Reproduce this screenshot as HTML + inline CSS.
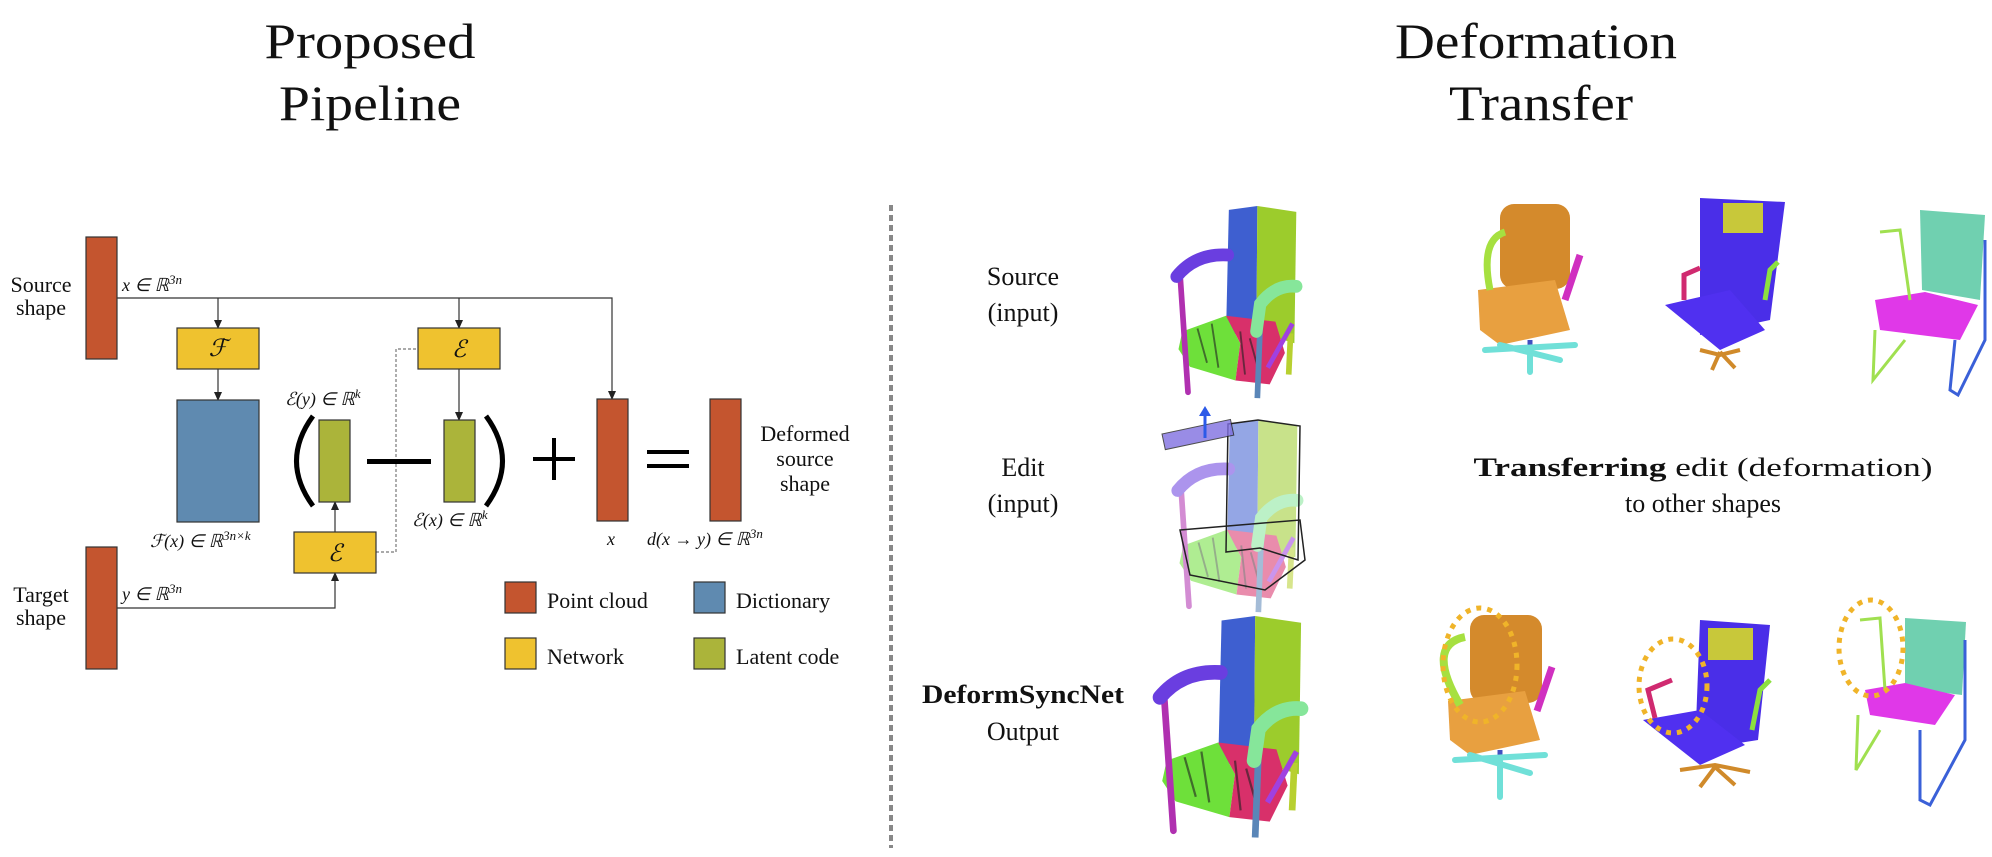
<!DOCTYPE html>
<html><head><meta charset="utf-8"><style>
html,body{margin:0;padding:0;background:#fff;}
svg{display:block;}
text{font-family:"Liberation Serif",serif;fill:#111;}
.m{font-style:italic;font-size:18px;}
</style></head><body>
<svg width="1992" height="857" viewBox="0 0 1992 857" xmlns="http://www.w3.org/2000/svg">
<defs>
<marker id="ah" markerWidth="9" markerHeight="8" refX="8" refY="4" orient="auto" markerUnits="userSpaceOnUse">
<path d="M0,0 L9,4 L0,8 z" fill="#222"/>
</marker>
<g id="chair">
 <path d="M63,4 L93,0 L92,128 L60,132 Z" fill="#3e5fd0"/>
 <path d="M93,0 L134,6 L132,140 L92,128 Z" fill="#9ccc2c"/>
 <path d="M14,128 L60,112 L75,140 L70,178 L22,164 L10,146 Z" fill="#6ee03a"/>
 <path d="M60,112 L112,118 L122,150 L106,182 L70,178 L75,140 Z" fill="#d8306a"/>
 <path d="M30,125 L40,160 M45,120 L52,165 M85,135 L95,170 M75,128 L80,172" stroke="#222" stroke-width="2" opacity=".6"/>
 <line x1="12" y1="75" x2="20" y2="190" stroke="#b030b0" stroke-width="6" stroke-linecap="round"/>
 <path d="M8,72 Q28,48 62,50" stroke="#6a3ee0" stroke-width="13" fill="none" stroke-linecap="round"/>
 <line x1="128" y1="130" x2="126" y2="172" stroke="#b8d030" stroke-width="6"/>
 <line x1="104" y1="165" x2="130" y2="120" stroke="#a040e0" stroke-width="5"/>
 <line x1="96" y1="120" x2="93" y2="196" stroke="#5a86b8" stroke-width="6"/>
 <path d="M92,128 L96,100 Q112,80 134,82" stroke="#86e69a" stroke-width="13" fill="none" stroke-linecap="round"/>
</g>
</defs>

<!-- Titles -->
<text x="370" y="58" font-size="50" text-anchor="middle" textLength="211" lengthAdjust="spacingAndGlyphs">Proposed</text>
<text x="370" y="120" font-size="50" text-anchor="middle" textLength="182" lengthAdjust="spacingAndGlyphs">Pipeline</text>
<text x="1536" y="58" font-size="50" text-anchor="middle" textLength="282" lengthAdjust="spacingAndGlyphs">Deformation</text>
<text x="1541" y="120" font-size="50" text-anchor="middle" textLength="184" lengthAdjust="spacingAndGlyphs">Transfer</text>

<!-- Left pipeline -->
<g stroke="#333" stroke-width="1.2" fill="none">
 <polyline points="117,298 612,298 612,399" marker-end="url(#ah)"/>
 <line x1="218" y1="298" x2="218" y2="328" marker-end="url(#ah)"/>
 <line x1="459" y1="298" x2="459" y2="328" marker-end="url(#ah)"/>
 <line x1="218" y1="369" x2="218" y2="400" marker-end="url(#ah)"/>
 <line x1="459" y1="369" x2="459" y2="420" marker-end="url(#ah)"/>
 <polyline points="117,608 335,608 335,573" marker-end="url(#ah)"/>
 <line x1="335" y1="532" x2="335" y2="502" marker-end="url(#ah)"/>
 <polyline points="376,552 396,552 396,349 418,349" stroke-dasharray="3,2" stroke="#777"/>
</g>

<g stroke="#333" stroke-width="1.2">
 <rect x="86" y="237" width="31" height="122" fill="#c4552f"/>
 <rect x="86" y="547" width="31" height="122" fill="#c4552f"/>
 <rect x="177" y="328" width="82" height="41" fill="#efc22f"/>
 <rect x="418" y="328" width="82" height="41" fill="#efc22f"/>
 <rect x="294" y="532" width="82" height="41" fill="#efc22f"/>
 <rect x="177" y="400" width="82" height="122" fill="#5f8ab0"/>
 <rect x="319" y="420" width="31" height="82" fill="#abb43a"/>
 <rect x="444" y="420" width="31" height="82" fill="#abb43a"/>
 <rect x="597" y="399" width="31" height="122" fill="#c4552f"/>
 <rect x="710" y="399" width="31" height="122" fill="#c4552f"/>
 <rect x="505" y="582" width="31" height="31" fill="#c4552f"/>
 <rect x="694" y="582" width="31" height="31" fill="#5f8ab0"/>
 <rect x="505" y="638" width="31" height="31" fill="#efc22f"/>
 <rect x="694" y="638" width="31" height="31" fill="#abb43a"/>
</g>
<text x="218" y="356" font-size="24" font-style="italic" text-anchor="middle">ℱ</text>
<text x="459" y="357" font-size="24" font-style="italic" text-anchor="middle">ℰ</text>
<text x="335" y="561" font-size="24" font-style="italic" text-anchor="middle">ℰ</text>

<!-- parens, minus, plus, equals -->
<path d="M313,416 Q280,461 313,506" stroke="#000" stroke-width="5" fill="none"/>
<path d="M486,416 Q519,461 486,506" stroke="#000" stroke-width="5" fill="none"/>
<rect x="367" y="459" width="64" height="5" fill="#000"/>
<rect x="533" y="457" width="42" height="4" fill="#000"/>
<rect x="552" y="438" width="4" height="42" fill="#000"/>
<rect x="647" y="450" width="42" height="4" fill="#000"/>
<rect x="647" y="464" width="42" height="4" fill="#000"/>

<!-- labels -->
<g font-size="22" text-anchor="middle">
 <text x="41" y="292">Source</text><text x="41" y="315">shape</text>
 <text x="41" y="602">Target</text><text x="41" y="625">shape</text>
 <text x="805" y="441">Deformed</text><text x="805" y="466">source</text><text x="805" y="491">shape</text>
</g>
<text class="m" x="122" y="291">x ∈ ℝ<tspan dy="-7" font-size="13">3n</tspan></text>
<text class="m" x="122" y="600">y ∈ ℝ<tspan dy="-7" font-size="13">3n</tspan></text>
<text class="m" x="285" y="405">ℰ(y) ∈ ℝ<tspan dy="-7" font-size="13">k</tspan></text>
<text class="m" x="150" y="547">ℱ(x) ∈ ℝ<tspan dy="-7" font-size="13">3n×k</tspan></text>
<text class="m" x="412" y="526">ℰ(x) ∈ ℝ<tspan dy="-7" font-size="13">k</tspan></text>
<text class="m" x="607" y="545">x</text>
<text class="m" x="647" y="545">d(x → y) ∈ ℝ<tspan dy="-7" font-size="13">3n</tspan></text>
<g font-size="22">
 <text x="547" y="608">Point cloud</text>
 <text x="736" y="608">Dictionary</text>
 <text x="547" y="664">Network</text>
 <text x="736" y="664">Latent code</text>
</g>

<!-- divider -->
<line x1="891" y1="205" x2="891" y2="848" stroke="#888" stroke-width="4" stroke-dasharray="6,4"/>

<!-- right labels -->
<g font-size="26" text-anchor="middle">
 <text x="1023" y="285">Source</text><text x="1023" y="321">(input)</text>
 <text x="1023" y="476">Edit</text><text x="1023" y="512">(input)</text>
 <text x="1023" y="703" font-weight="bold" textLength="202" lengthAdjust="spacingAndGlyphs">DeformSyncNet</text>
 <text x="1023" y="740">Output</text>
 <text x="1703" y="476" textLength="459" lengthAdjust="spacingAndGlyphs"><tspan font-weight="bold">Transferring</tspan> edit (deformation)</text>
 <text x="1703" y="512">to other shapes</text>
</g>

<!-- left chairs -->
<use href="#chair" transform="translate(1169,206) scale(0.95,0.98)"/>
<g opacity="0.55"><use href="#chair" transform="translate(1170,420) scale(0.95,0.98)"/></g>
<g stroke="#222" stroke-width="1.5" fill="none">
 <path d="M1228,424 L1258,420 L1300,426 L1298,560 L1260,548 L1226,552 Z"/>
 <path d="M1180,530 L1300,520 L1305,560 L1265,590 L1190,575 Z"/>
</g>
<rect x="1162" y="434" width="70" height="16" fill="#8070e0" stroke="#222" opacity=".8" transform="rotate(-12 1162 434)"/>
<line x1="1205" y1="438" x2="1205" y2="414" stroke="#2c5ae8" stroke-width="3"/>
<path d="M1199,416 L1211,416 L1205,406 Z" fill="#2c5ae8"/>
<use href="#chair" transform="translate(1151,616) scale(1.12,1.13)"/>

<!-- other chairs: top row -->
<g>
 <rect x="1500" y="204" width="70" height="85" rx="14" fill="#d48a2c"/>
 <path d="M1478,290 L1555,280 L1570,330 L1500,345 L1480,330 Z" fill="#e8a040"/>
 <path d="M1490,290 Q1480,240 1505,232" stroke="#a6e040" stroke-width="7" fill="none"/>
 <path d="M1565,300 L1580,255" stroke="#d030c0" stroke-width="7"/>
 <line x1="1530" y1="340" x2="1530" y2="362" stroke="#4050c0" stroke-width="5"/>
 <path d="M1485,350 L1575,345 M1530,352 L1530,372 M1500,345 L1560,360" stroke="#70e0d8" stroke-width="6" stroke-linecap="round"/>
</g>
<g>
 <path d="M1700,198 L1785,202 L1770,320 L1700,335 Z" fill="#4a2ee8"/>
 <rect x="1723" y="203" width="40" height="30" fill="#c8c83a"/>
 <path d="M1665,305 L1730,290 L1765,330 L1720,350 Z" fill="#5030f0"/>
 <path d="M1684,300 L1684,275 L1700,268" stroke="#d02a70" stroke-width="5" fill="none"/>
 <path d="M1765,300 L1770,270 L1778,262" stroke="#8ce040" stroke-width="5" fill="none"/>
 <path d="M1700,350 L1720,355 L1740,350 M1720,352 L1712,370 M1720,352 L1735,368" stroke="#d08a2a" stroke-width="4" fill="none"/>
</g>
<g>
 <path d="M1920,210 L1985,215 L1980,300 L1922,290 Z" fill="#70d0b0"/>
 <path d="M1875,300 L1925,292 L1978,305 L1960,340 L1880,330 Z" fill="#e038e8"/>
 <path d="M1880,232 L1900,230 L1910,300 M1875,330 L1873,380 L1905,340" stroke="#a0e050" stroke-width="3" fill="none"/>
 <path d="M1955,340 L1950,390 L1958,395 L1985,340 L1985,240" stroke="#3a60d8" stroke-width="3" fill="none"/>
</g>

<!-- other chairs: bottom row -->
<g transform="translate(-30,405)">
 <rect x="1500" y="210" width="72" height="88" rx="14" fill="#d48a2c"/>
 <path d="M1478,296 L1555,286 L1570,335 L1500,350 L1480,335 Z" fill="#e8a040"/>
 <path d="M1490,300 Q1455,240 1495,232" stroke="#a6e040" stroke-width="8" fill="none"/>
 <path d="M1567,306 L1582,262" stroke="#d030c0" stroke-width="7"/>
 <line x1="1530" y1="345" x2="1530" y2="365" stroke="#4050c0" stroke-width="5"/>
 <path d="M1485,355 L1575,350 M1530,356 L1530,392 M1500,350 L1560,368" stroke="#70e0d8" stroke-width="6" stroke-linecap="round"/>
</g>
<ellipse cx="1480" cy="665" rx="37" ry="57" fill="none" stroke="#f0b429" stroke-width="5" stroke-dasharray="5,6"/>
<g>
 <path d="M1700,620 L1770,625 L1758,740 L1695,750 Z" fill="#4a2ee8"/>
 <rect x="1708" y="628" width="45" height="32" fill="#c8c83a"/>
 <path d="M1643,720 L1700,710 L1745,745 L1700,765 Z" fill="#5030f0"/>
 <path d="M1655,718 L1648,690 L1672,680" stroke="#d02a70" stroke-width="5" fill="none"/>
 <path d="M1752,730 L1760,690 L1770,680" stroke="#8ce040" stroke-width="5" fill="none"/>
 <path d="M1680,770 L1715,765 L1750,772 M1715,767 L1700,787 M1715,767 L1735,785" stroke="#d08a2a" stroke-width="4" fill="none"/>
</g>
<ellipse cx="1673" cy="686" rx="34" ry="47" fill="none" stroke="#f0b429" stroke-width="5" stroke-dasharray="5,6"/>
<g>
 <path d="M1905,618 L1966,622 L1962,695 L1905,688 Z" fill="#70d0b0"/>
 <path d="M1865,690 L1905,683 L1955,695 L1935,725 L1870,715 Z" fill="#e038e8"/>
 <path d="M1860,620 L1880,618 L1885,690 M1858,715 L1856,770 L1880,730" stroke="#a0e050" stroke-width="3" fill="none"/>
 <path d="M1920,730 L1920,800 L1930,805 L1965,740 L1965,640" stroke="#3a60d8" stroke-width="3" fill="none"/>
</g>
<ellipse cx="1871" cy="648" rx="32" ry="48" fill="none" stroke="#f0b429" stroke-width="5" stroke-dasharray="5,6"/>
</svg>
</body></html>
